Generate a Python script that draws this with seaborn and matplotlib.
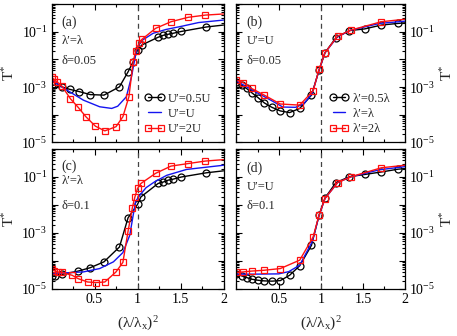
import numpy as np
import matplotlib
matplotlib.use("Agg")
import matplotlib.pyplot as plt
import matplotlib.ticker as mticker
import seaborn as sns

# ---------------- data (log10 of T*) ----------------
# panel (a): lambda'=lambda, delta=0.05
a_black_x = [0.0, 0.03, 0.12, 0.21, 0.32, 0.45, 0.61, 0.79, 0.89, 0.95, 1.0, 1.05, 1.24, 1.30, 1.36, 1.41, 1.51, 1.80, 2.0]
a_black_y = [-2.93, -2.93, -2.99, -3.08, -3.16, -3.27, -3.29, -2.99, -2.45, -2.08, -1.66, -1.48, -1.20, -1.13, -1.09, -1.06, -0.99, -0.83, -0.76]
a_blue_x = [0.0, 0.18, 0.37, 0.56, 0.70, 0.77, 0.87, 0.93, 0.97, 1.0, 1.06, 1.18, 1.33, 1.52, 1.71, 2.0]
a_blue_y = [-2.75, -3.11, -3.47, -3.71, -3.77, -3.69, -3.35, -2.63, -1.96, -1.54, -1.30, -1.06, -0.92, -0.80, -0.67, -0.58]
a_red_x = [0.0, 0.03, 0.065, 0.12, 0.22, 0.31, 0.40, 0.51, 0.62, 0.75, 0.83, 0.90, 0.95, 0.98, 1.02, 1.05, 1.21, 1.39, 1.59, 1.79, 2.0]
a_red_y = [-2.65, -2.72, -2.81, -2.96, -3.42, -3.73, -4.07, -4.41, -4.58, -4.43, -4.07, -3.35, -2.08, -1.69, -1.42, -1.28, -0.88, -0.64, -0.48, -0.40, -0.36]

# panel (b): U'=U, delta=0.05
b_black_x = [0.0, 0.06, 0.12, 0.18, 0.26, 0.33, 0.42, 0.52, 0.63, 0.75, 0.89, 0.98, 1.05, 1.18, 1.34, 1.52, 1.72, 1.92, 2.0]
b_black_y = [-2.81, -2.93, -3.05, -3.20, -3.39, -3.57, -3.73, -3.86, -3.92, -3.77, -3.29, -2.39, -1.76, -1.22, -0.96, -0.90, -0.76, -0.70, -0.68]
b_blue_x = [0.0, 0.2, 0.4, 0.55, 0.7, 0.8, 0.9, 0.98, 1.05, 1.2, 1.35, 1.7, 2.0]
b_blue_y = [-2.78, -3.13, -3.46, -3.72, -3.73, -3.60, -3.22, -2.38, -1.76, -1.18, -0.95, -0.70, -0.62]
b_red_x = [0.0, 0.08, 0.18, 0.33, 0.52, 0.75, 0.91, 0.98, 1.05, 1.20, 1.36, 1.72, 2.0]
b_red_y = [-2.75, -2.84, -3.05, -3.29, -3.61, -3.65, -3.13, -2.36, -1.76, -1.16, -0.94, -0.64, -0.55]

# panel (c): lambda'=lambda, delta=0.1
c_black_x = [0.0, 0.04, 0.12, 0.31, 0.45, 0.61, 0.79, 0.89, 1.0, 1.04, 1.24, 1.30, 1.36, 1.41, 1.51, 1.80, 2.0]
c_black_y = [-4.54, -4.53, -4.48, -4.36, -4.24, -4.03, -3.50, -2.46, -1.98, -1.71, -1.23, -1.18, -1.11, -1.08, -1.00, -0.85, -0.78]
c_blue_x = [0.0, 0.37, 0.56, 0.72, 0.83, 0.91, 0.95, 0.98, 1.04, 1.1, 1.2, 1.34, 1.57, 2.0]
c_blue_y = [-4.45, -4.39, -4.27, -4.03, -3.70, -3.08, -2.36, -1.86, -1.60, -1.38, -1.17, -0.94, -0.73, -0.58]
c_red_x = [0.0, 0.03, 0.07, 0.12, 0.24, 0.31, 0.42, 0.52, 0.62, 0.75, 0.83, 0.89, 0.94, 0.97, 1.0, 1.04, 1.21, 1.39, 1.59, 1.79, 2.0]
c_red_y = [-4.30, -4.34, -4.39, -4.41, -4.51, -4.63, -4.75, -4.77, -4.75, -4.39, -4.05, -2.94, -2.10, -1.71, -1.41, -1.23, -0.87, -0.61, -0.52, -0.43, -0.38]

# panel (d): U'=U, delta=0.1
d_black_x = [0.0, 0.06, 0.12, 0.18, 0.26, 0.33, 0.42, 0.52, 0.63, 0.75, 0.89, 0.98, 1.05, 1.18, 1.34, 1.52, 1.72, 1.92, 2.0]
d_black_y = [-4.45, -4.53, -4.59, -4.65, -4.69, -4.71, -4.72, -4.70, -4.51, -4.17, -3.44, -2.36, -1.75, -1.20, -0.99, -0.91, -0.82, -0.72, -0.70]
d_blue_x = [0.0, 0.2, 0.5, 0.62, 0.75, 0.9, 0.98, 1.05, 1.2, 1.35, 1.7, 2.0]
d_blue_y = [-4.47, -4.47, -4.46, -4.38, -4.15, -3.30, -2.38, -1.77, -1.20, -1.00, -0.74, -0.63]
d_red_x = [0.0, 0.08, 0.18, 0.33, 0.52, 0.75, 0.91, 0.98, 1.05, 1.20, 1.36, 1.72, 2.0]
d_red_y = [-4.41, -4.39, -4.36, -4.33, -4.27, -3.97, -3.14, -2.36, -1.77, -1.20, -0.99, -0.67, -0.58]

legend_left = ["U\u2032=0.5U", "U\u2032=U", "U\u2032=2U"]
legend_right = ["\u03bb\u2032=0.5\u03bb", "\u03bb\u2032=\u03bb", "\u03bb\u2032=2\u03bb"]
panel_tags = ["(a)", "(b)", "(c)", "(d)"]
panel_param = ["\u03bb\u2032=\u03bb", "U\u2032=U", "\u03bb\u2032=\u03bb", "U\u2032=U"]
panel_delta = ["\u03b4=0.05", "\u03b4=0.05", "\u03b4=0.1", "\u03b4=0.1"]
xtick_vals = [0, 0.5, 1, 1.5, 2]
xtick_labels = ["", "0.5", "1", "1.5", "2"]

# ---------------- style ----------------
sns.set_theme(style="ticks")
plt.rcParams["font.family"] = ["Liberation Serif", "DejaVu Serif"]
plt.rcParams["mathtext.fontset"] = "custom"
plt.rcParams["mathtext.rm"] = "Liberation Serif"
plt.rcParams["mathtext.it"] = "Liberation Serif:italic"
plt.rcParams["axes.linewidth"] = 0.9

BLACK = "#000000"
BLUE = "#1414f0"
RED = "#ff1010"

fig = plt.figure(figsize=(4.57, 3.36), dpi=100)
W, H = 457.0, 336.0
boxes = [
    (51.5, 4.0, 172.0, 138.5),
    (236.5, 4.0, 168.5, 138.5),
    (51.5, 149.0, 172.0, 140.0),
    (236.5, 149.0, 168.5, 140.0),
]
axes = [fig.add_axes([l / W, 1 - (t + h) / H, w / W, h / H]) for (l, t, w, h) in boxes]

data = [
    (a_black_x, a_black_y, a_blue_x, a_blue_y, a_red_x, a_red_y),
    (b_black_x, b_black_y, b_blue_x, b_blue_y, b_red_x, b_red_y),
    (c_black_x, c_black_y, c_blue_x, c_blue_y, c_red_x, c_red_y),
    (d_black_x, d_black_y, d_blue_x, d_blue_y, d_red_x, d_red_y),
]

ytick_major = [1e-5, 1e-4, 1e-3, 1e-2, 1e-1, 1e0]
ytick_labels = ["$10^{-5}$", "", "$10^{-3}$", "", "$10^{-1}$", ""]

for i, ax in enumerate(axes):
    kx, ky, bx, by, rx, ry = data[i]
    labels = legend_left if i % 2 == 0 else legend_right
    lab = (lambda k: labels[k]) if i < 2 else (lambda k: None)
    ax.axvline(1.0, color="#444444", lw=0.9, ls=(0, (4, 3)), zorder=1)
    sns.lineplot(x=kx, y=10 ** np.array(ky), ax=ax, color=BLACK, lw=1.0,
                 marker="o", ms=5, mfc="none", mec=BLACK, mew=0.9,
                 markevery=list(range(len(kx) - 1)), label=lab(0), legend=False)
    sns.lineplot(x=bx, y=10 ** np.array(by), ax=ax, color=BLUE, lw=1.0,
                 label=lab(1), legend=False)
    sns.lineplot(x=rx, y=10 ** np.array(ry), ax=ax, color=RED, lw=1.0,
                 marker="s", ms=4.5, mfc="none", mec=RED, mew=0.9,
                 markevery=list(range(len(rx) - 1)), label=lab(2), legend=False)

    ax.set_yscale("log")
    ax.set_ylim(1e-5, 1.0)
    ax.set_xlim(0, 2)
    ax.yaxis.set_major_locator(mticker.FixedLocator(ytick_major))
    ax.yaxis.set_major_formatter(mticker.FixedFormatter(ytick_labels))
    ax.yaxis.set_minor_locator(mticker.LogLocator(base=10, subs=np.arange(2, 10), numticks=20))
    ax.yaxis.set_minor_formatter(mticker.NullFormatter())
    ax.xaxis.set_major_locator(mticker.FixedLocator(xtick_vals))
    ax.xaxis.set_minor_locator(mticker.MultipleLocator(0.25))
    if i >= 2:
        ax.xaxis.set_major_formatter(mticker.FixedFormatter(xtick_labels))
        ax.set_xlabel("(\u03bb/\u03bb$_{\\mathrm{x}}$)$^{2}$", fontsize=11, labelpad=6)
    else:
        ax.xaxis.set_major_formatter(mticker.NullFormatter())
        ax.set_xlabel("")
    ax.tick_params(which="both", direction="in", top=True, right=True, colors="black",
                   labelsize=10, width=0.8, pad=3)
    ax.tick_params(which="major", length=4.5)
    ax.tick_params(which="minor", length=2.5)
    if i % 2 == 1:
        ax.yaxis.set_ticks_position("both")
        ax.tick_params(axis="y", which="both", labelleft=False, labelright=True)
        ax.yaxis.set_label_position("right")
        ax.set_ylabel("T$^{*}$", fontsize=11, rotation=90)
        ax.yaxis.set_label_coords(1.205, 0.5)
    else:
        ax.set_ylabel("T$^{*}$", fontsize=11)
        ax.yaxis.set_label_coords(-0.2, 0.5)
    for sp in ax.spines.values():
        sp.set_color("black")

    ty = 0.865 if i != 2 else 0.875
    ax.text(0.06, ty, panel_tags[i], transform=ax.transAxes, fontsize=10,
            ha="left", va="center")
    py = 0.73 if i != 2 else 0.775
    ax.text(0.06, py, panel_param[i], transform=ax.transAxes, fontsize=9,
            ha="left", va="center")
    ax.text(0.06, 0.59, panel_delta[i], transform=ax.transAxes, fontsize=9,
            ha="left", va="center")

    if i < 2:
        ax.legend(loc="upper left", bbox_to_anchor=(0.54 if i == 0 else 0.55, 0.36),
                  frameon=False, fontsize=9, handlelength=1.6, handletextpad=0.3,
                  labelspacing=0.25, borderpad=0, borderaxespad=0, numpoints=2)

fig.savefig("out.png", dpi=100)
